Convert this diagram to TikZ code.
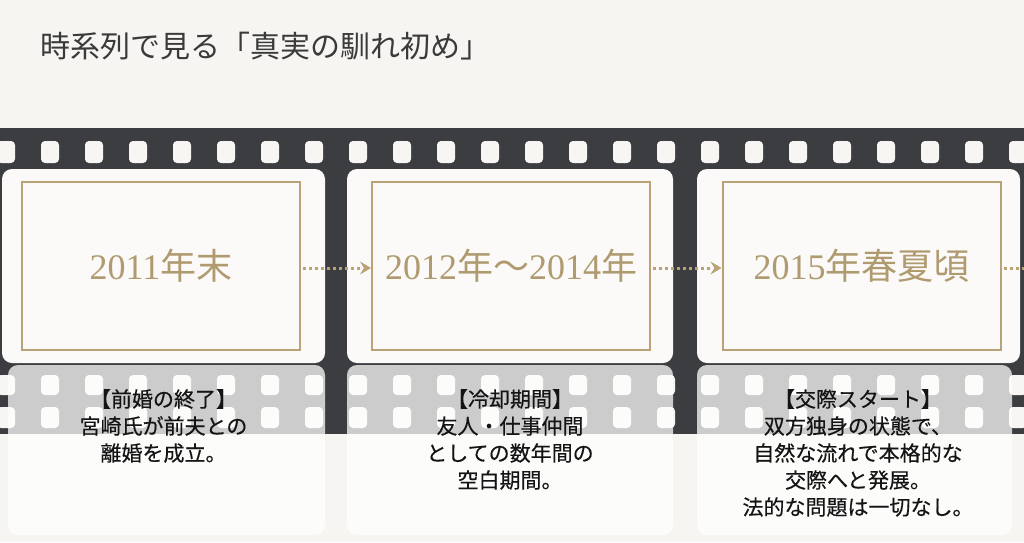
\documentclass[tikz,border=0pt]{standalone}
\usepackage{fontspec}
\setmainfont{Noto Sans CJK JP}
\newfontfamily\bodyfont[FakeBold=0.35]{Noto Sans CJK JP}
\newfontfamily\digitfont{Liberation Serif}
\usetikzlibrary{arrows.meta}
\definecolor{bgcol}{HTML}{F6F5F1}
\definecolor{filmcol}{HTML}{3C3D41}
\definecolor{holecol}{HTML}{F7F6F3}
\definecolor{framecol}{HTML}{FBFAF8}
\definecolor{goldcol}{HTML}{B8A276}
\definecolor{goldtext}{HTML}{B09B70}
\definecolor{titlecol}{HTML}{3A3A3A}
\definecolor{bodycol}{HTML}{141414}
\tikzset{
  filmframe/.style={fill=framecol, rounded corners=10pt, inner sep=0pt, outer sep=0pt, minimum height=194pt},
  goldbox/.style={draw=goldcol, line width=2pt, fill=framecol, inner sep=0pt, outer sep=0pt,
    minimum width=278pt, minimum height=168pt, text=goldtext, font=\fontsize{36}{40}\selectfont},
  card/.style={fill=white, fill opacity=0.74, rounded corners=10pt, inner sep=0pt, outer sep=0pt, minimum height=170pt},
  cardtext/.style={anchor=north, text=bodycol, align=center, text width=320pt, inner sep=0pt,
    font=\bodyfont\fontsize{21}{27}\selectfont},
  hole/.style={fill=holecol, rounded corners=4pt},
  dots/.style={draw=goldcol, line width=3pt, dash pattern=on 3pt off 3pt},
  tiponly/.style={draw=goldcol, fill=goldcol, line width=1pt, -{Stealth[length=11pt,width=13pt,inset=4pt]}},
}
\begin{document}
\begin{tikzpicture}[x=1pt,y=-1pt]
\useasboundingbox (0,0) rectangle (1024,542);
\fill[bgcol] (0,0) rectangle (1024,542);
% title
\node[anchor=west, text=titlecol, font=\fontsize{30}{34}\selectfont, inner sep=0pt] (title) at (40,46) {時系列で見る「真実の馴れ初め」};
% film strip
\fill[filmcol] (-5,128) rectangle (1030,434);
\foreach \k in {0,...,23} {
  \fill[hole] (-3+44*\k,141) rectangle (15+44*\k,163);
  \fill[hole] (-3+44*\k,375) rectangle (15+44*\k,395);
  \fill[hole] (-3+44*\k,407) rectangle (15+44*\k,428);
}
% frames
\node[filmframe, minimum width=323pt] (f1) at (163.5,266) {};
\node[filmframe, minimum width=326pt] (f2) at (510,266) {};
\node[filmframe, minimum width=323pt] (f3) at (858.5,266) {};
% gold boxes with years
\node[goldbox] (g1) at (161,266) {{\digitfont 2011}年末};
\node[goldbox] (g2) at (511,266) {{\digitfont 2012}年～{\digitfont 2014}年};
\node[goldbox] (g3) at (861.5,266) {{\digitfont 2015}年春夏頃};
% arrows
\coordinate (out) at (1034,268);
\draw[dots] ([yshift=-2pt,xshift=3pt]g1.east) -- ([yshift=-2pt,xshift=-10pt]g2.west);
\draw[tiponly] ([yshift=-2pt,xshift=-7pt]g2.west) -- ([yshift=-2pt,xshift=-1pt]g2.west);
\draw[dots] ([yshift=-2pt,xshift=3pt]g2.east) -- ([yshift=-2pt,xshift=-10pt]g3.west);
\draw[tiponly] ([yshift=-2pt,xshift=-7pt]g3.west) -- ([yshift=-2pt,xshift=-1pt]g3.west);
\draw[dots] ([yshift=-2pt,xshift=3pt]g3.east) -- (out);
% cards
\node[card, minimum width=317pt] (c1) at (166.5,450) {};
\node[card, minimum width=326pt] (c2) at (510,450) {};
\node[card, minimum width=315pt] (c3) at (854.5,450) {};
% card texts
\node[cardtext] (t1) at (163.5,389) {【前婚の終了】\\宮崎氏が前夫との\\離婚を成立。};
\node[cardtext] (t2) at (510,389) {【冷却期間】\\友人・仕事仲間\\としての数年間の\\空白期間。};
\node[cardtext] (t3) at (858,389) {【交際スタート】\\双方独身の状態で、\\自然な流れで本格的な\\交際へと発展。\\法的な問題は一切なし。};
\end{tikzpicture}
\end{document}
